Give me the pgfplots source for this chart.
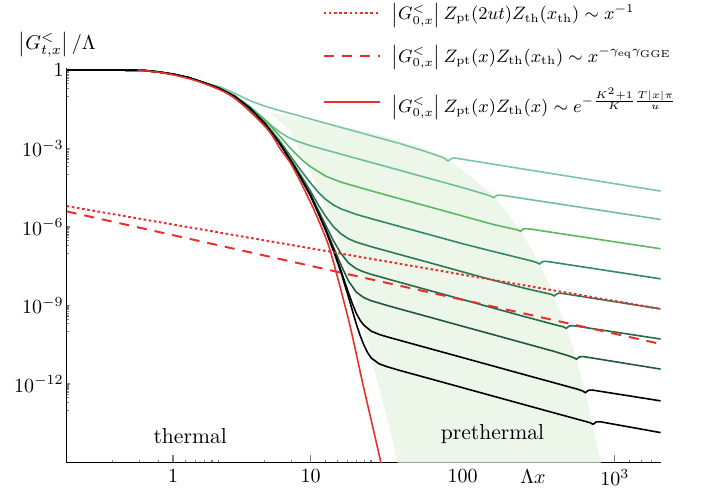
\documentclass[border=0pt]{standalone}
\usepackage{pgfplots}
\pgfplotsset{compat=1.18}
\definecolor{cred}{RGB}{232,48,44}
\definecolor{gA}{RGB}{125,198,165}
\definecolor{gB}{RGB}{112,192,150}
\definecolor{gC}{RGB}{92,184,96}
\definecolor{gD}{RGB}{50,138,96}
\definecolor{gE}{RGB}{44,122,84}
\definecolor{gF}{RGB}{38,106,70}
\definecolor{gG}{RGB}{32,90,58}
\definecolor{shade}{RGB}{236,246,233}

\begin{document}
\begin{tikzpicture}
\begin{loglogaxis}[
  at={(0pt,0pt)}, anchor=south west,
  scale only axis, width=297pt, height=197.1pt,
  xmin=0.25, xmax=2000, ymin=1e-15, ymax=1.17,
  axis lines=left, axis line style={-, line width=0.6pt},
  tick align=inside,
  xtick={1.25,10,100,1000}, xticklabels={$1$,$10$,$100$,$10^3$},
  minor xtick={0.5,0.75,1,1.5,1.75,2,2.25,2.5,5,7.5,12.5,15,17.5,20,22.5,25,50,75,125,150,175,200,225,250,500,750,1250,1500,1750},
  ytick={1e-12,1e-9,1e-6,1e-3,1},
  yticklabels={$10^{-12}$,$10^{-9}$,$10^{-6}$,$10^{-3}$,$1$},
  minor ytick={1e-13,2e-13,3e-13,4e-13,5e-13,6e-13,7e-13,8e-13,9e-13,
    1e-10,2e-10,3e-10,4e-10,5e-10,6e-10,7e-10,8e-10,9e-10,
    1e-7,2e-7,3e-7,4e-7,5e-7,6e-7,7e-7,8e-7,9e-7,
    1e-4,2e-4,3e-4,4e-4,5e-4,6e-4,7e-4,8e-4,9e-4,
    0.1,0.2,0.3,0.4,0.5,0.6,0.7,0.8,0.9},
  xtick style={line width=0.6pt, /pgfplots/major tick length=4pt, /pgfplots/minor tick length=1.2pt},
  ytick style={line width=0.6pt, /pgfplots/major tick length=1.8pt, /pgfplots/minor tick length=1.2pt},
  yticklabel style={xshift=2pt},
  xlabel={$\Lambda x$},
  xlabel style={at={(axis description cs:0.785,0)}, anchor=north},
  ylabel={$\left|G^{<}_{t,x}\right|/\Lambda$},
  ylabel style={rotate=-90, at={(axis description cs:-0.016,1.06)}, anchor=center, inner sep=0.5pt},
  legend style={at={(axis description cs:0.42,1.186)}, anchor=north west,
    draw=none, fill=none, row sep=7.5pt, font=\fontsize{9.2}{11}\selectfont},
  legend cell align=left,
  legend image code/.code={\draw[#1] (0pt,0pt) -- (28pt,0pt); \path (31.5pt,0pt);},
]

% prethermal region
\addplot[fill=shade, draw=none, forget plot] coordinates {
  (5.37,2.46e-2) (11.47,1.02e-2) (24.45,4.21e-3) (52.1,1.22e-3) (79.6,4.25e-4)
  (160,1.63e-5) (237,8.09e-7) (316,4.81e-8) (391,2.86e-9) (476,1.70e-10)
  (553,1.10e-11) (635,5.48e-13) (706,3.56e-14) (809,1e-15) (37.35,1e-15)
  (32.1,3.89e-14) (26.4,3.21e-12) (21.7,2.64e-10) (17.5,2.17e-8)
  (13.3,2.78e-6) (9.85,1.48e-4) (7.27,5.03e-3)
} -- cycle;

% curves, lightest (shortest time) to black
\addplot[gA, line width=0.8pt, forget plot] coordinates {
  (0.25,1) (0.501,1) (0.794,0.977) (1,0.851) (1.259,0.692) (1.585,0.513) (1.995,0.331)
  (2.512,0.234) (3.162,0.132) (3.981,6.85e-2) (5.012,4.17e-2) (6.310,2.82e-2)
  (10,1.35e-2) (15.85,6.46e-3) (25.12,3.09e-3) (38.55,1.56e-3) (56.23,7.94e-4)
  (72.44,4.79e-4) (76.74,4.07e-4) (80,3.35e-4) (84.14,4.14e-4) (88.51,4.37e-4)
  (316.2,1.33e-4) (2000,2.37e-5)
};
\addplot[gB, line width=0.8pt, forget plot] coordinates {
  (0.25,1) (0.501,1) (0.794,0.977) (1,0.851) (1.259,0.692) (1.585,0.513) (1.995,0.331)
  (2.512,0.211) (3.162,0.108) (3.981,4.11e-2) (4.467,2.33e-2) (5.012,1.28e-2)
  (5.623,7.05e-3) (6.310,4.17e-3) (7.079,2.75e-3) (7.943,2.02e-3) (10,1.29e-3)
  (15.85,6.12e-4) (25.12,2.93e-4) (38.55,1.48e-4)
  (63.10,6.71e-5) (100,3.21e-5) (142.6,1.75e-5) (152.8,1.52e-5) (160,1.33e-5)
  (167.5,1.63e-5) (177.4,1.67e-5) (2000,1.95e-6)
};
\addplot[gC, line width=0.8pt, forget plot] coordinates {
  (0.25,1) (0.501,1) (0.794,0.977) (1,0.851) (1.259,0.692) (1.585,0.513) (1.995,0.331)
  (2.512,0.1995) (3.162,0.104) (3.981,3.9e-2) (5.012,1.26e-2) (5.623,6.07e-3)
  (6.310,2.88e-3) (7.079,1.34e-3) (7.943,6.58e-4) (8.913,3.49e-4) (10,2.03e-4)
  (12.59,8.81e-5) (15.85,5.22e-5) (25.12,2.41e-5)
  (38.55,1.21e-5) (63.10,5.52e-6) (100,2.64e-6) (158.5,1.26e-6) (213.8,8.51e-7)
  (229.1,7.76e-7) (240,6.92e-7) (251.2,8.51e-7) (266.1,8.71e-7) (2000,1.48e-7)
};
\addplot[gD, line width=0.8pt, forget plot] coordinates {
  (0.25,1) (0.501,1) (0.794,0.977) (1,0.851) (1.259,0.692) (1.585,0.513) (1.995,0.331)
  (2.512,0.1995) (3.162,0.1) (3.981,3.6e-2) (5.012,9.93e-3) (5.623,4.42e-3)
  (6.310,1.87e-3) (7.079,7.38e-4) (7.943,2.88e-4) (8.913,1.15e-4) (10,4.90e-5)
  (11.22,2.16e-5) (12.59,1.14e-5) (14.13,7.02e-6) (15.85,4.96e-6) (19.95,3.06e-6)
  (25.12,2.09e-6)
  (38.55,1.05e-6) (63.10,4.80e-7) (100,2.30e-7) (158.5,1.17e-7) (251.2,6.03e-8)
  (285.1,5.01e-8) (305.5,4.47e-8) (320,3.89e-8) (335,4.79e-8) (354.8,4.90e-8)
  (1000,1.95e-8) (2000,1.045e-8)
};
\addplot[gE, line width=0.8pt, forget plot] coordinates {
  (0.25,1) (0.501,1) (0.794,0.977) (1,0.851) (1.259,0.692) (1.585,0.513) (1.995,0.331)
  (2.512,0.1995) (3.162,0.1) (3.981,3.55e-2) (5.012,9.20e-3) (6.310,1.61e-3)
  (7.079,5.92e-4) (7.943,2.07e-4) (8.913,7.02e-5) (10,2.36e-5) (11.22,7.23e-6)
  (12.59,2.54e-6) (14.13,1.04e-6) (15.85,5.50e-7) (17.78,3.57e-7) (19.95,2.67e-7)
  (25.12,1.77e-7) (38.55,8.91e-8) (63.10,4.06e-8) (100,1.94e-8) (158.5,9.29e-9)
  (251.2,4.68e-9) (354.8,2.95e-9) (380.2,2.69e-9) (400,2.34e-9) (418.8,2.88e-9)
  (443.6,2.95e-9) (2000,7.41e-10)
};
\addplot[gF, line width=0.8pt, forget plot] coordinates {
  (0.25,1) (0.501,1) (0.794,0.977) (1,0.851) (1.259,0.692) (1.585,0.513) (1.995,0.331)
  (2.512,0.1995) (3.162,0.1) (3.981,3.55e-2) (5.012,8.91e-3) (6.310,1.54e-3)
  (7.943,1.86e-4) (8.913,5.93e-5) (10,1.80e-5) (11.22,4.50e-6) (12.59,1.16e-6)
  (14.13,3.05e-7) (15.85,9.75e-8) (17.78,4.23e-8) (19.95,2.57e-8) (22.39,1.93e-8)
  (25.12,1.55e-8) (38.55,7.74e-9)
  (63.10,3.52e-9) (100,1.69e-9) (158.5,8.07e-10) (251.2,3.86e-10) (426.6,1.70e-10)
  (457.1,1.55e-10) (480,1.35e-10) (502.3,1.66e-10) (532.1,1.70e-10) (2000,5.25e-11)
};
\addplot[gG, line width=0.8pt, forget plot] coordinates {
  (0.25,1) (0.501,1) (0.794,0.977) (1,0.851) (1.259,0.692) (1.585,0.513) (1.995,0.331)
  (2.512,0.1995) (3.162,0.1) (3.981,3.55e-2) (5.012,8.91e-3) (6.310,1.51e-3)
  (7.943,1.80e-4) (8.913,5.64e-5) (10,1.65e-5) (11.22,3.83e-6) (12.59,8.61e-7)
  (14.13,1.73e-7) (15.85,3.57e-8) (17.78,8.59e-9) (19.95,3.29e-9) (22.39,2.01e-9)
  (25.12,1.52e-9) (31.62,1.02e-9) (38.55,7.41e-10) (63.10,3.37e-10) (100,1.61e-10)
  (158.5,7.73e-11) (251.2,3.70e-11) (398.1,1.77e-11) (501.2,1.175e-11)
  (534.6,1.02e-11) (560,8.91e-12) (586.1,1.10e-11) (620.9,1.12e-11) (2000,3.72e-12)
};
\addplot[black, line width=0.8pt, forget plot] coordinates {
  (0.25,1) (0.501,1) (0.794,0.977) (1,0.851) (1.259,0.692) (1.585,0.513) (1.995,0.331)
  (2.512,0.1995) (3.162,0.1) (3.981,3.55e-2) (5.012,8.91e-3) (6.310,1.51e-3)
  (7.943,1.78e-4) (10,1.60e-5) (11.22,3.61e-6) (12.59,7.69e-7) (14.13,1.37e-7)
  (15.85,2.17e-8) (16.79,7.96e-9) (17.78,3.02e-9) (18.84,1.18e-9) (19.95,5.22e-10)
  (21.13,2.81e-10) (22.39,1.79e-10) (25.12,1.04e-10) (28.18,7.91e-11)
  (31.62,6.43e-11) (38.55,4.68e-11)
  (63.10,2.13e-11) (100,1.02e-11) (158.5,4.88e-12) (251.2,2.33e-12)
  (398.1,1.12e-12) (570.2,6.31e-13) (610.9,5.50e-13) (640,4.68e-13)
  (669.9,5.75e-13) (709.6,5.89e-13) (2000,2.27e-13)
};
\addplot[black, line width=0.8pt, forget plot] coordinates {
  (0.25,1) (0.501,1) (0.794,0.977) (1,0.851) (1.259,0.692) (1.585,0.513) (1.995,0.331)
  (2.512,0.1995) (3.162,0.1) (3.981,3.55e-2) (5.012,8.91e-3) (6.310,1.51e-3)
  (7.943,1.78e-4) (10,1.59e-5) (11.22,3.56e-6) (12.59,7.45e-7) (14.13,1.29e-7)
  (15.85,1.88e-8) (17.78,2.08e-9) (18.84,6.43e-10) (19.95,2.05e-10)
  (21.13,7.46e-11) (22.39,3.16e-11) (23.71,1.58e-11) (25.12,9.77e-12)
  (28.18,5.96e-12) (31.62,4.65e-12)
  (38.55,3.31e-12) (63.10,1.51e-12) (100,7.21e-13) (158.5,3.45e-13)
  (251.2,1.65e-13) (398.1,7.91e-14) (641.2,3.72e-14) (687.1,3.31e-14)
  (720,2.88e-14) (753.4,3.55e-14) (798,3.63e-14) (2000,1.39e-14)
};

% asymptotes
\addplot[cred, line width=1pt, dash pattern=on 1.3pt off 1.3pt] coordinates {
  (0.25,6.32e-6) (2000,7.41e-10)
};
\addlegendentry{$\left|G^{<}_{0,x}\right| Z_{\mathrm{pt}}(2ut)Z_{\mathrm{th}}(x_{\mathrm{th}})\sim x^{-1}$}
\addplot[cred, line width=1pt, dash pattern=on 5pt off 4pt] coordinates {
  (0.25,3.96e-6) (2000,3.39e-11)
};
\addlegendentry{$\left|G^{<}_{0,x}\right| Z_{\mathrm{pt}}(x)Z_{\mathrm{th}}(x_{\mathrm{th}})\sim x^{-\gamma_{\mathrm{eq}}\gamma_{\mathrm{GGE}}}$}
\addplot[cred, line width=0.8pt, smooth] coordinates {
  (0.731,1.0) (1.124,0.748) (1.861,0.356) (3.083,9.48e-2) (5.11,6.3e-3)
  (6.42,8.61e-4) (7.65,1.97e-4) (10.35,5.78e-6) (12.79,3.07e-7) (14.03,5.5e-8)
  (18.06,1.97e-10) (22.09,9.9e-13) (29.18,8.5e-16) (32,5e-17)
};
\addlegendentry{$\left|G^{<}_{0,x}\right| Z_{\mathrm{pt}}(x)Z_{\mathrm{th}}(x)\sim e^{-\frac{K^2+1}{K}\frac{T|x|\pi}{u}}$}

\node at (axis cs:1.62,1.05e-14) {\fontsize{10.8}{12}\selectfont thermal};
\node at (axis cs:157,1.24e-14) {\fontsize{10.8}{12}\selectfont prethermal};
\end{loglogaxis}
\pgfresetboundingbox
\path[use as bounding box] (-33.35pt,-13.25pt) rectangle (317.65pt,231.25pt);
\end{tikzpicture}
\end{document}
